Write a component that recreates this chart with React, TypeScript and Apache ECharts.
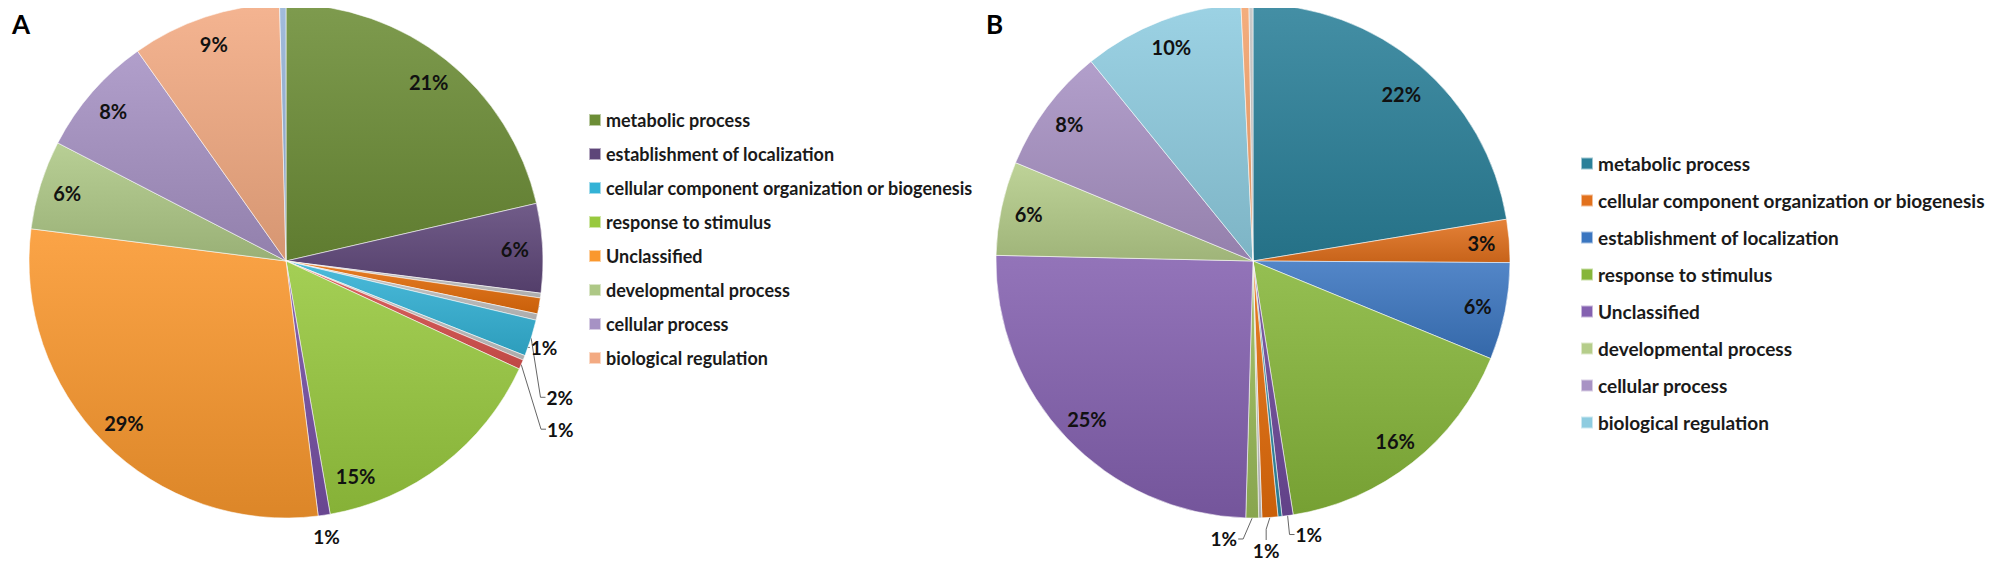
import React, { useEffect, useRef } from "react";
import * as echarts from "echarts";

// ---------- DATA ----------
const namesA = [
  "metabolic process",
  "establishment of localization",
  "cell killing",
  "localization",
  "growth",
  "cellular component organization or biogenesis",
  "locomotion",
  "immune system process",
  "response to stimulus",
  "reproduction",
  "Unclassified",
  "developmental process",
  "cellular process",
  "biological regulation",
  "multicellular organismal process",
];
const valuesA = [21.4, 5.6, 0.3, 1.0, 0.4, 2.3, 0.3, 0.6, 15.35, 0.75, 29.0, 5.6, 7.6, 9.4, 0.4];
const legendA = [
  "metabolic process",
  "establishment of localization",
  "cellular component organization or biogenesis",
  "response to stimulus",
  "Unclassified",
  "developmental process",
  "cellular process",
  "biological regulation",
];

const namesB = [
  "metabolic process",
  "cellular component organization or biogenesis",
  "establishment of localization",
  "response to stimulus",
  "reproduction",
  "immune system process",
  "localization",
  "cell killing",
  "multicellular organismal process",
  "Unclassified",
  "developmental process",
  "cellular process",
  "biological regulation",
  "biological adhesion",
  "growth",
];
const valuesB = [22.4, 2.7, 6.1, 16.3, 0.7, 0.25, 1.0, 0.2, 0.8, 24.9, 5.9, 7.9, 10.1, 0.5, 0.25];
const legendB = [
  "metabolic process",
  "cellular component organization or biogenesis",
  "establishment of localization",
  "response to stimulus",
  "Unclassified",
  "developmental process",
  "cellular process",
  "biological regulation",
];

// ---------- STYLE ----------
const colorsA = [
  "#6C8D36", "#5E4679", "#C4C4C4", "#E46C0A", "#C4C4C4", "#33B2D6", "#C4C4C4", "#D9524E",
  "#98C93E", "#7650A4", "#FA982E", "#AEC886", "#A692C4", "#F3AA82", "#95B3D7",
];
const colorsB = [
  "#2A8099", "#E2711D", "#3B76C0", "#86B63A", "#6E4A9A", "#2F8AA3", "#E46C0A", "#C4C4C4",
  "#9BBB59", "#8461B0", "#B5CD8A", "#A892C4", "#8ECCE0", "#F4A36C", "#C4C4C4",
];
// label mode per slice: "in" (inside end), "out" (outside with leader), "bare" (outside, no leader), "none"
const modesA = ["in", "in", "none", "out", "none", "out", "none", "out", "in", "bare", "in", "in", "in", "in", "none"];
const modesB = ["in", "in", "in", "in", "out", "none", "out", "none", "out", "in", "in", "in", "in", "none", "none"];
// nudges of outside labels [dataIndex, dx, dy, leaderKind] ; leaderKind 0 = to left side, 1 = to top, 2 = to right side
const nudgeA: number[][] = [[3, -35, 39, 0], [5, -11, 55, 0], [7, 0, 59, 0], [9, -26, 8, 0]];
const nudgeB: number[][] = [[4, -69, 5, 0], [6, -31, 0, 1], [8, -2, 7, 2]];
// nudges of inside labels [dataIndex, dx, dy]
const nudgeInA: number[][] = [[8, -70, 33]];
const nudgeInB: number[][] = [[0, 0, 8]];

const FONT = 'Lato, "Open Sans", "DejaVu Sans", sans-serif';

function shade(hex: string, f: number): string {
  const n = parseInt(hex.slice(1), 16);
  let r = (n >> 16) & 255, g = (n >> 8) & 255, b = n & 255;
  if (f > 0) {
    r = r + (255 - r) * f; g = g + (255 - g) * f; b = b + (255 - b) * f;
  } else {
    r = r * (1 + f); g = g * (1 + f); b = b * (1 + f);
  }
  return `rgb(${Math.round(r)},${Math.round(g)},${Math.round(b)})`;
}

function grad(c: string) {
  return new echarts.graphic.LinearGradient(0, 0, 0, 1, [
    { offset: 0, color: shade(c, 0.12) },
    { offset: 1, color: shade(c, -0.12) },
  ]);
}

const pctFmt = (p: any) => `${Math.round(p.percent)}%`;

function pieSeries(
  names: string[], values: number[], colors: string[], modes: string[],
  nudges: number[][], nudgesIn: number[][], center: number[], r: number,
) {
  const main = {
    type: "pie",
    center,
    radius: [0, r],
    startAngle: 90,
    clockwise: true,
    silent: true,
    avoidLabelOverlap: true,
    itemStyle: { borderColor: "rgba(255,255,255,0.55)", borderWidth: 1 },
    label: {
      position: "outside",
      formatter: pctFmt,
      color: "#111",
      fontFamily: FONT,
      fontWeight: "bold",
      fontSize: 19,
    },
    labelLine: { length: 14, length2: 8, lineStyle: { color: "#666", width: 1 } },
    labelLayout: (p: any) => {
      const n = nudges.find((x) => x[0] === p.dataIndex);
      if (!n) return {};
      const lr = p.labelRect;
      const left = lr.x + n[1];
      const top = lr.y + n[2];
      const right = left + lr.width;
      const cy = top + lr.height / 2;
      const cx = left + lr.width / 2;
      const out: any = { dx: n[1], dy: n[2] };
      const pts = p.labelLinePoints;
      if (pts && pts.length) {
        const p0 = pts[0];
        if (n[3] === 0) out.labelLinePoints = [p0, [left - 6, cy], [left - 1, cy]];
        else if (n[3] === 1) out.labelLinePoints = [p0, [cx, (p0[1] + top) / 2], [cx, top - 1]];
        else out.labelLinePoints = [p0, [right + 6, cy], [right + 1, cy]];
      }
      return out;
    },
    data: names.map((n, i) => ({
      name: n,
      value: values[i],
      itemStyle: { color: grad(colors[i]) },
      label: { show: modes[i] === "out" || modes[i] === "bare" },
      labelLine: { show: modes[i] === "out" },
    })),
  };
  const labels = {
    type: "pie",
    center,
    radius: [r * 0.76, r],
    startAngle: 90,
    clockwise: true,
    silent: true,
    z: 5,
    itemStyle: { color: "rgba(0,0,0,0)", borderWidth: 0 },
    label: {
      position: "inside",
      formatter: pctFmt,
      color: "#111",
      fontFamily: FONT,
      fontWeight: "bold",
      fontSize: 20,
    },
    labelLine: { show: false },
    labelLayout: (p: any) => {
      const n = nudgesIn.find((x) => x[0] === p.dataIndex);
      return n ? { dx: n[1], dy: n[2] } : {};
    },
    data: names.map((n, i) => ({
      name: n,
      value: values[i],
      label: { show: modes[i] === "in" },
    })),
  };
  return [main, labels];
}

function legendData(list: string[], names: string[], colors: string[]) {
  return list.map((n) => ({ name: n, itemStyle: { color: colors[names.indexOf(n)] } }));
}

export default function App() {
  const ref = useRef<HTMLDivElement>(null);
  useEffect(() => {
    if (!ref.current) return;
    const chart = echarts.init(ref.current, undefined, { renderer: "svg" });
    const R = 257;
    const titleStyle = { fontFamily: FONT, fontWeight: "bold", fontSize: 26, color: "#000" };
    chart.setOption({
      animation: false,
      backgroundColor: "#ffffff",
      title: [
        { text: "A", left: 4, top: 3, padding: 0, textStyle: titleStyle },
        { text: "B", left: 978, top: 3, padding: 0, textStyle: titleStyle },
      ],
      legend: [
        {
          orient: "vertical",
          left: 580,
          top: 103,
          padding: 0,
          icon: "rect",
          itemWidth: 12,
          itemHeight: 12,
          itemGap: 16,
          selectedMode: false,
          textStyle: { fontFamily: FONT, fontWeight: "bold", fontSize: 18, color: "#1a1a1a", lineHeight: 18 },
          data: legendData(legendA, namesA, colorsA),
        },
        {
          orient: "vertical",
          left: 1572,
          top: 146,
          padding: 0,
          icon: "rect",
          itemWidth: 12,
          itemHeight: 12,
          itemGap: 18,
          selectedMode: false,
          textStyle: { fontFamily: FONT, fontWeight: "bold", fontSize: 19, color: "#1a1a1a", lineHeight: 19 },
          data: legendData(legendB, namesB, colorsB),
        },
      ],
      series: [
        ...pieSeries(namesA, valuesA, colorsA, modesA, nudgeA, nudgeInA, [278, 253], R),
        ...pieSeries(namesB, valuesB, colorsB, modesB, nudgeB, nudgeInB, [1245, 253], R),
      ],
    });
    return () => chart.dispose();
  }, []);
  return <div ref={ref} style={{ width: 1983, height: 556 }} />;
}
